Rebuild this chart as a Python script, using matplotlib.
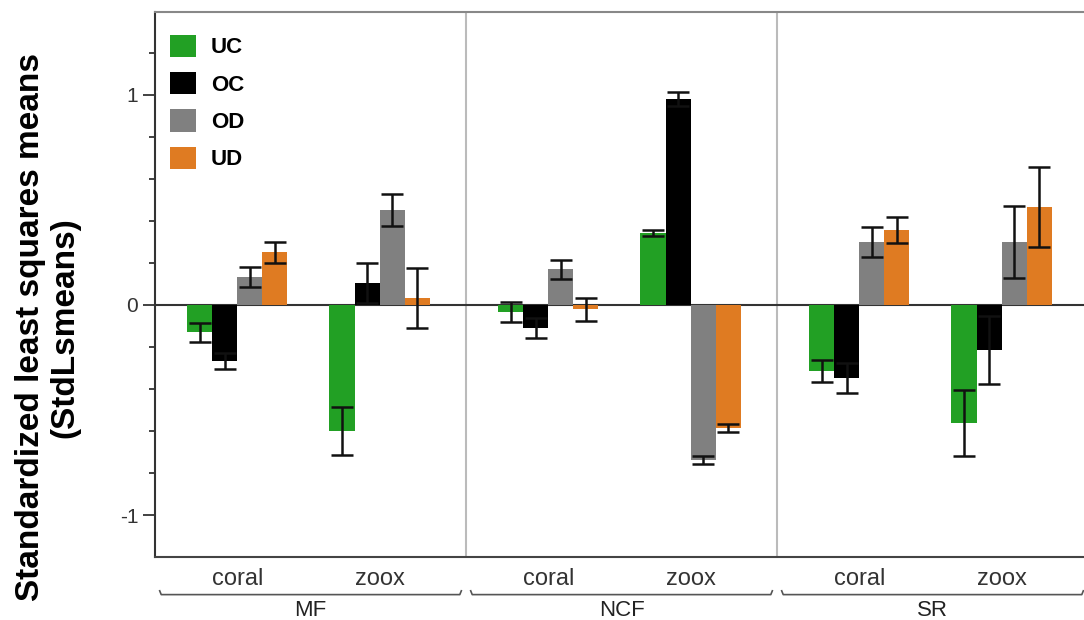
import numpy as np
import matplotlib
matplotlib.use('Agg')
import matplotlib.pyplot as plt
import matplotlib.transforms as mtransforms

plt.rcParams['font.family'] = ['Liberation Sans', 'DejaVu Sans']

# datos
sitios = ['MF', 'NCF', 'SR']
tipos = ['coral', 'zoox']
grupos = ['UC', 'OC', 'OD', 'UD']
colores = ['#22a024', '#000000', '#808080', '#df7b22']

# medias por grupo: [MF coral, MF zoox, NCF coral, NCF zoox, SR coral, SR zoox]
medias = {
    'UC': [-0.13, -0.60, -0.035, 0.343, -0.315, -0.56],
    'OC': [-0.267, 0.105, -0.11, 0.98, -0.347, -0.214],
    'OD': [0.133, 0.452, 0.17, -0.738, 0.30, 0.30],
    'UD': [0.252, 0.035, -0.02, -0.586, 0.357, 0.467],
}
errores = {
    'UC': [0.045, 0.115, 0.048, 0.016, 0.052, 0.157],
    'OC': [0.04, 0.095, 0.047, 0.033, 0.07, 0.16],
    'OD': [0.048, 0.078, 0.045, 0.02, 0.071, 0.17],
    'UD': [0.05, 0.143, 0.055, 0.02, 0.064, 0.19],
}

fig = plt.figure(figsize=(10.84, 6.2), dpi=100)
ax = fig.add_axes([0.143, 0.1016, 0.8607, 0.879])

ancho = 0.0805
pos_tipo = [0.265, 0.722]
centros = np.array([s + p for s in range(len(sitios)) for p in pos_tipo])

for i, g in enumerate(grupos):
    x = centros + (i - 1.5) * ancho
    ax.bar(x, medias[g], width=ancho, color=colores[i], label=g, zorder=2)
    ax.errorbar(x, medias[g], yerr=errores[g], fmt='none', ecolor='#111111',
                elinewidth=1.8, capsize=8, capthick=1.8, zorder=3)

ax.axhline(0, color='#333333', lw=1.5, zorder=1)
for s in range(1, len(sitios)):
    ax.axvline(s, color='#bbbbbb', lw=1.5, zorder=0)

ax.set_xlim(0, 3)
ax.set_ylim(-1.2, 1.395)
ax.set_yticks([-1, 0, 1])
ax.set_yticklabels(['-1', '0', '1'])
ax.set_yticks(np.arange(-1.0, 1.3, 0.2), minor=True)
ax.tick_params(axis='y', which='major', length=9, width=1.3, labelsize=15,
               colors='#333333', pad=3)
ax.tick_params(axis='y', which='minor', length=4, width=1.3, colors='#333333')
ax.set_xticks([])

ax.spines['left'].set_color('#333333')
ax.spines['left'].set_linewidth(1.5)
ax.spines['bottom'].set_color('#444444')
ax.spines['bottom'].set_linewidth(1.5)
ax.spines['top'].set_color('#888888')
ax.spines['top'].set_linewidth(1.5)
ax.spines['right'].set_visible(False)

fig.text(0.044, 0.472, 'Standardized least squares means\n(StdLsmeans)',
         rotation=90, ha='center', va='center', fontsize=24,
         fontweight='bold', linespacing=1.1, multialignment='center')

# etiquetas de categorias y corchetes
trans = mtransforms.blended_transform_factory(ax.transData, ax.transAxes)
for c, t in zip(centros, tipos * len(sitios)):
    ax.text(c, -0.04, t, transform=trans, ha='center', va='center',
            fontsize=17, color='#333333')
for s, nombre in enumerate(sitios):
    x0, x1 = s + 0.015, s + 0.985
    ax.plot([x0, x0 + 0.005, x1 - 0.005, x1], [-0.062, -0.069, -0.069, -0.062],
            transform=trans, clip_on=False, color='#555555', lw=1.2)
    ax.text(s + 0.5, -0.098, nombre, transform=trans, ha='center', va='center',
            fontsize=16, color='#222222')

ax.legend(loc='upper left', bbox_to_anchor=(-0.008, 0.999), frameon=False,
          prop={'weight': 'bold', 'size': 16}, handlelength=1.2, handleheight=1.15,
          handletextpad=0.65, labelspacing=0.62, borderaxespad=0.6)

fig.savefig('out.png', dpi=100)
